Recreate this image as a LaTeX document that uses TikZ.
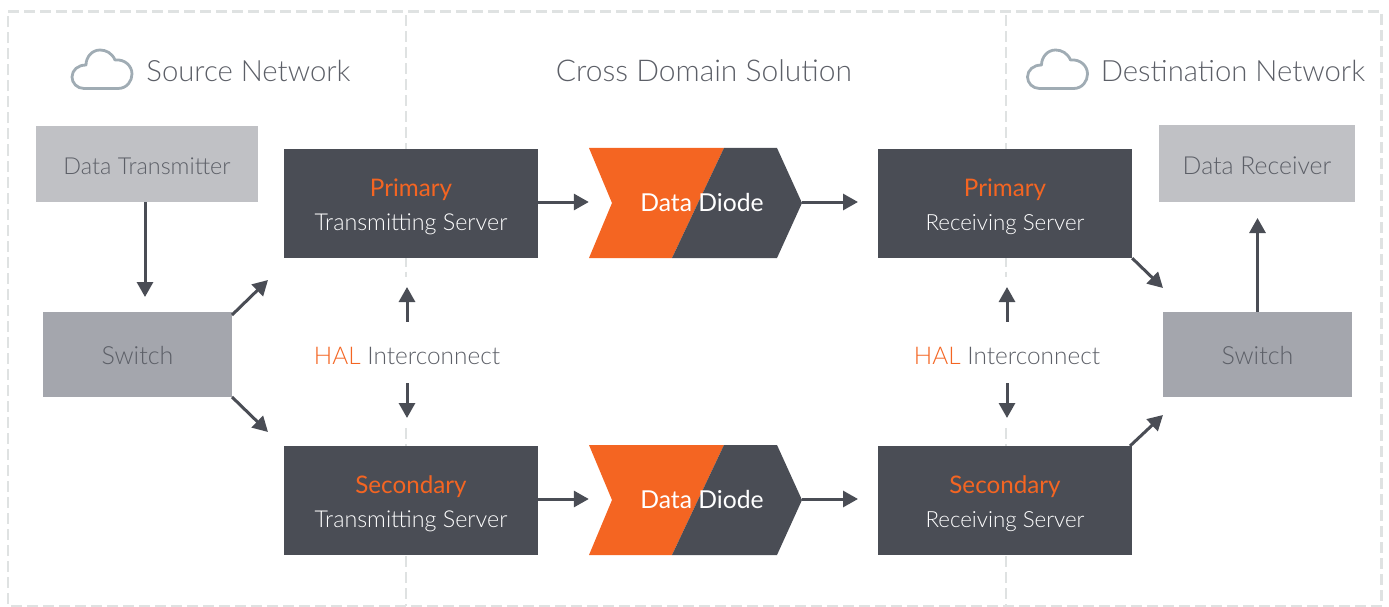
\documentclass[tikz,border=0pt]{standalone}
\usepackage{fontspec}
\setmainfont{Lato}[UprightFont=* Light,BoldFont=* Regular]
\usetikzlibrary{arrows.meta}
\definecolor{dark}{HTML}{4A4D55}
\definecolor{orng}{HTML}{F46522}
\definecolor{dashc}{HTML}{DFE2E2}
\definecolor{lgrey}{HTML}{C0C1C5}
\definecolor{mgrey}{HTML}{A4A6AD}
\definecolor{txt}{HTML}{5C5F67}
\definecolor{cloudc}{HTML}{A0ACB4}
\newcommand{\fs}[1]{\fontsize{#1}{#1}\selectfont}
\newcommand{\lifted}[2]{\makebox[0pt]{\raisebox{#1}[0pt][0pt]{#2}}}
\newcommand{\srv}[2]{\lifted{7.5pt}{\textcolor{orng}{\fs{24.2}\bfseries #1}}\lifted{-26.5pt}{#2}}
\tikzset{
  x=1pt,y=-1pt,
  zone/.style={draw=dashc,line width=2.8pt,dash pattern=on 11pt off 5pt},
  flow/.style={draw=dark,line width=3pt,-{Triangle[length=15pt,width=16pt]}},
  lightbox/.style={fill=lgrey,text=txt,inner sep=0},
  switchbox/.style={fill=mgrey,text=txt,inner sep=0,font=\fs{25},minimum width=189pt,minimum height=85pt},
  server/.style={fill=dark,text=white,inner sep=0,font=\fs{23.3},minimum width=254pt,minimum height=109pt},
  title/.style={text=txt,inner sep=0,font=\fs{29.3},anchor=base},
  hal/.style={fill=white,text=txt,inner sep=0,font=\fs{24.4},minimum height=61pt,minimum width=190pt},
  diode/.style={text=white,inner sep=0,font=\fs{24.7}\bfseries,minimum width=213pt,minimum height=110pt},
  cloudline/.style={draw=cloudc,line width=2.8pt,line join=round}
}
\newcommand{\diodeshape}[1]{%
  \fill[orng] (589,#1) -- (724,#1) -- (672,#1+110) -- (589,#1+110) -- (612,#1+55) -- cycle;
  \fill[dark] (724,#1) -- (777,#1) -- (802,#1+55) -- (777,#1+110) -- (672,#1+110) -- cycle;
}
\newcommand{\cloudshape}[1]{%
  \draw[cloudline,shift={(#1,0)}] (84,88.5) -- (118,88.5) .. controls (127,88.5) and (132,81) .. (132,74)
    .. controls (132,66) and (125,59) .. (115,60) .. controls (112,53) and (106,50) .. (100,50)
    .. controls (92,50) and (86,57) .. (86,65) .. controls (78,65) and (72,70) .. (72,77)
    .. controls (72,83) and (77,88.5) .. (84,88.5) -- cycle;
}
\begin{document}
\begin{tikzpicture}
\useasboundingbox (0,0) rectangle (1389,607);
% zones
\draw[zone] (8,11.5) -- (1381.5,11.5) -- (1381.5,606) -- (8,606) -- cycle;
\draw[zone,dash phase=-4pt] (406,11.5) -- (406,277);
\draw[zone] (406,428) -- (406,606);
\draw[zone,dash phase=-4pt] (1006,11.5) -- (1006,277);
\draw[zone] (1006,428) -- (1006,606);
% titles
\cloudshape{0}
\cloudshape{955.5}
\node[title] (srcT) at (248.5,82) {Source Network};
\node[title,font=\fs{30}] (cdsT) at (704,82) {Cross Domain Solution};
\node[title] (dstT) at (1233,82) {Destination Network};
% boxes
\node[lightbox,font=\fs{23.4},minimum width=222pt,minimum height=76pt] (tx) at (147,164) {\lifted{-10pt}{Data Transmitter}};
\node[lightbox,font=\fs{24.8},minimum width=196pt,minimum height=77pt] (rx) at (1257,163.5) {\lifted{-10.5pt}{Data Receiver}};
\node[switchbox] (swL) at (137.5,354.5) {\lifted{-9.5pt}{Switch}};
\node[switchbox] (swR) at (1257.5,354.5) {\lifted{-9.5pt}{Switch}};
\node[server] (ts1) at (411,203.5) {\srv{Primary}{Transmitting Server}};
\node[server] (ts2) at (411,500.5) {\srv{Secondary}{Transmitting Server}};
\node[server,font=\fs{22.3}] (rs1) at (1005,203.5) {\srv{Primary}{Receiving Server}};
\node[server,font=\fs{22.3}] (rs2) at (1005,500.5) {\srv{Secondary}{Receiving Server}};
% diodes
\diodeshape{148}
\diodeshape{445}
\node[diode] (d1) at (695.5,202) {\hspace*{13pt}\lifted{-9.7pt}{Data Diode}};
\node[diode] (d2) at (695.5,499) {\hspace*{13pt}\lifted{-9.7pt}{Data Diode}};
% HAL
\node[hal] (hal1) at (407,352.5) {\lifted{-11.5pt}{\textcolor{orng}{HAL} Interconnect}};
\node[hal] (hal2) at (1007,352.5) {\lifted{-11.5pt}{\textcolor{orng}{HAL} Interconnect}};
% free ends
\coordinate (swLup) at (268,280);
\coordinate (swLdn) at (268,432);
\coordinate (swRup) at (1163,288);
\coordinate (swRdn) at (1163,415);
\coordinate (d1out) at (858,202);
\coordinate (d2out) at (858,499);
\coordinate (h1up) at (407,287);
\coordinate (h1dn) at (407,418);
\coordinate (h2up) at (1007,287);
\coordinate (h2dn) at (1007,418);
\coordinate (swLin) at (145,297);
\coordinate (txout) at (145,202);
\coordinate (rxin) at (1257.5,218);
\coordinate (swLa) at (232,315);
\coordinate (swLb) at (232,397);
\coordinate (rs2a) at (1130,446);
% connectors
\draw[flow] (txout) -- (swLin);
\draw[flow] (swLa) -- (swLup);
\draw[flow] (swLb) -- (swLdn);
\draw[flow] (ts1.east |- d1.west) -- (d1.west);
\draw[flow] (ts2.east |- d2.west) -- (d2.west);
\draw[flow] (d1.east) -- (d1out);
\draw[flow] (d2.east) -- (d2out);
\draw[flow] (hal1.north) -- (h1up);
\draw[flow] (hal1.south) -- (h1dn);
\draw[flow] (hal2.north) -- (h2up);
\draw[flow] (hal2.south) -- (h2dn);
\draw[flow] (rs1.south east) -- (swRup);
\draw[flow] (rs2a) -- (swRdn);
\draw[flow] (swR.north) -- (rxin);
\end{tikzpicture}
\end{document}
